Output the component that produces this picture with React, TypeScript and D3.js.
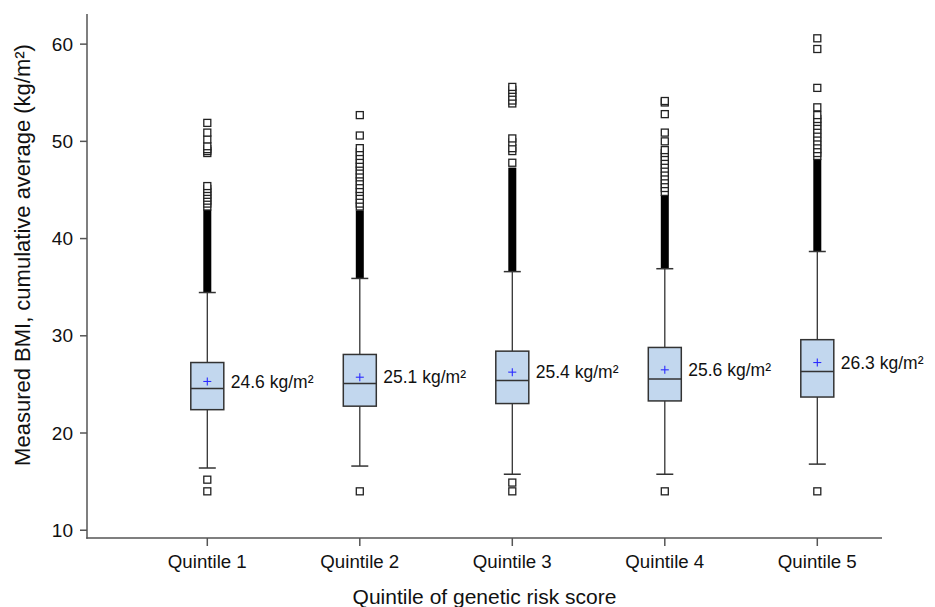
import React from "react";
import * as d3 from "d3";

const categories = ["Quintile 1", "Quintile 2", "Quintile 3", "Quintile 4", "Quintile 5"];
const lowerQuartile = [22.4, 22.76, 23.03, 23.3, 23.7];
const medians = [24.58, 25.09, 25.4, 25.55, 26.33];
const upperQuartile = [27.25, 28.08, 28.42, 28.8, 29.6];
const means = [25.3, 25.74, 26.26, 26.5, 27.25];
const whiskerLow = [16.4, 16.6, 15.76, 15.76, 16.8];
const whiskerHigh = [34.45, 35.9, 36.6, 36.9, 38.67];
const medianLabels = ["24.6 kg/m²", "25.1 kg/m²", "25.4 kg/m²", "25.6 kg/m²", "26.3 kg/m²"];
const denseLow = [34.5, 35.9, 36.6, 36.9, 38.7];
const denseHigh = [43.0, 42.9, 47.3, 44.5, 48.2];
const outliersQ1 = [14.0, 15.2, 43.3, 43.6, 43.9, 44.2, 44.5, 44.8, 45.1, 45.4, 48.8, 49.0, 49.2, 49.5, 50.2, 50.9, 51.9];
const outliersQ2 = [14.0, 43.3, 43.6, 44.0, 44.4, 44.8, 45.1, 45.5, 45.9, 46.3, 46.6, 47.0, 47.4, 47.7, 48.1, 48.5, 48.9, 49.3, 50.6, 52.7];
const outliersQ3 = [14.0, 14.9, 47.8, 49.0, 49.3, 49.9, 50.3, 53.9, 54.2, 54.6, 55.0, 55.3, 55.6];
const outliersQ4 = [14.0, 44.8, 45.2, 45.6, 46.0, 46.4, 46.8, 47.2, 47.6, 48.0, 48.4, 48.8, 49.1, 50.0, 50.9, 52.8, 54.0, 54.15];
const outliersQ5 = [14.0, 48.5, 48.8, 49.2, 49.6, 50.0, 50.4, 50.8, 51.2, 51.6, 52.0, 52.3, 52.7, 53.5, 55.5, 59.5, 60.6];
const outliers = [outliersQ1, outliersQ2, outliersQ3, outliersQ4, outliersQ5];
const yTicks = [10, 20, 30, 40, 50, 60];
const yAxisExtent = [9.2, 63.1];

const W = 935;
const H = 607;
const FONT = "'Liberation Sans', Arial, Helvetica, sans-serif";

export default function App() {
  const y = d3.scaleLinear().domain(yAxisExtent).range([538, 14]);
  const x = d3.scalePoint<string>().domain(categories).range([207.3, 817.3]);
  const axisLeft = 87;
  const axisRight = 882;
  const axisBottom = y(yAxisExtent[0]);
  const boxHalf = 16.5;
  const capHalf = 8.5;
  const sq = 7;
  const stroke = "#333";

  return (
    <svg width={W} height={H} style={{ position: "absolute", left: 0, top: 0, background: "#fff" }} fontFamily={FONT}>
      {/* axes */}
      <line x1={axisLeft} x2={axisLeft} y1={y(yAxisExtent[1])} y2={axisBottom + 0.75} stroke="#555" strokeWidth={1.5} />
      <line x1={axisLeft - 0.75} x2={axisRight} y1={axisBottom} y2={axisBottom} stroke="#555" strokeWidth={1.5} />
      {yTicks.map((t) => (
        <g key={t}>
          <line x1={axisLeft - 7} x2={axisLeft} y1={y(t)} y2={y(t)} stroke="#555" strokeWidth={1.5} />
          <text x={axisLeft - 14} y={y(t)} dy="0.35em" textAnchor="end" fontSize={19} fill="#111">
            {t}
          </text>
        </g>
      ))}
      {categories.map((c) => (
        <g key={c}>
          <line x1={x(c)} x2={x(c)} y1={axisBottom} y2={axisBottom + 8} stroke="#555" strokeWidth={1.5} />
          <text x={x(c)} y={axisBottom + 30} textAnchor="middle" fontSize={18.7} fill="#111">
            {c}
          </text>
        </g>
      ))}
      <text
        transform={`translate(30, 255) rotate(-90)`}
        textAnchor="middle"
        fontSize={22}
        fill="#111"
      >
        Measured BMI, cumulative average (kg/m²)
      </text>
      <text x={(axisLeft + axisRight) / 2} y={604} textAnchor="middle" fontSize={21} fill="#111">
        Quintile of genetic risk score
      </text>

      {/* boxes */}
      {categories.map((c, i) => {
        const cx = x(c) as number;
        return (
          <g key={c}>
            <line x1={cx} x2={cx} y1={y(upperQuartile[i])} y2={y(whiskerHigh[i])} stroke={stroke} strokeWidth={1.3} />
            <line x1={cx} x2={cx} y1={y(lowerQuartile[i])} y2={y(whiskerLow[i])} stroke={stroke} strokeWidth={1.3} />
            <rect
              x={cx - 4}
              width={8}
              y={y(denseHigh[i])}
              height={y(denseLow[i]) - y(denseHigh[i])}
              fill="#000"
            />
            {outliers[i].map((v, k) => (
              <rect
                key={k}
                x={cx - sq / 2}
                y={y(v) - sq / 2}
                width={sq}
                height={sq}
                fill="#fff"
                stroke="#222"
                strokeWidth={1.3}
              />
            ))}
            <line x1={cx - capHalf} x2={cx + capHalf} y1={y(whiskerHigh[i])} y2={y(whiskerHigh[i])} stroke={stroke} strokeWidth={1.5} />
            <line x1={cx - capHalf} x2={cx + capHalf} y1={y(whiskerLow[i])} y2={y(whiskerLow[i])} stroke={stroke} strokeWidth={1.5} />
            <rect
              x={cx - boxHalf}
              width={boxHalf * 2}
              y={y(upperQuartile[i])}
              height={y(lowerQuartile[i]) - y(upperQuartile[i])}
              fill="#c2d7ee"
              stroke={stroke}
              strokeWidth={1.5}
            />
            <line x1={cx - boxHalf} x2={cx + boxHalf} y1={y(medians[i])} y2={y(medians[i])} stroke={stroke} strokeWidth={1.5} />
            <line x1={cx - 4} x2={cx + 4} y1={y(means[i])} y2={y(means[i])} stroke="#2b2bff" strokeWidth={1.1} />
            <line x1={cx} x2={cx} y1={y(means[i]) - 4} y2={y(means[i]) + 4} stroke="#2b2bff" strokeWidth={1.1} />
            <text x={cx + boxHalf + 7} y={y(means[i])} dy="0.35em" fontSize={17.5} fill="#111">
              {medianLabels[i]}
            </text>
          </g>
        );
      })}
    </svg>
  );
}
